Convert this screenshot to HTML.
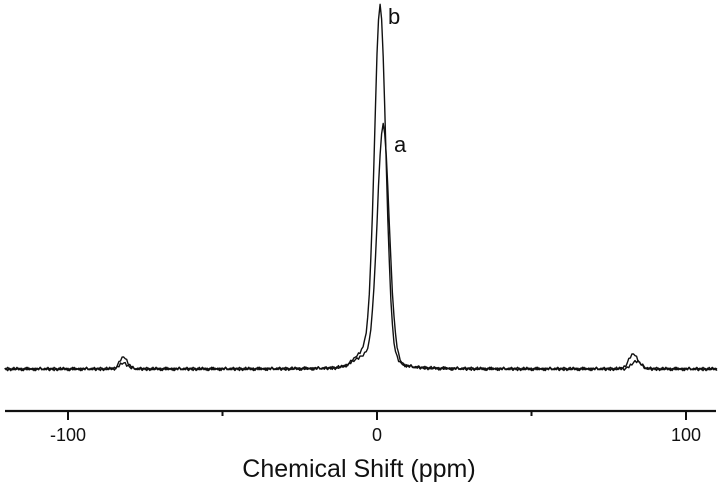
<!DOCTYPE html>
<html><head><meta charset="utf-8"><style>
html,body{margin:0;padding:0;background:#fff;}
svg{display:block;font-family:"Liberation Sans",Arial,sans-serif;}
</style></head><body>
<svg id="chart" width="721" height="482" viewBox="0 0 721 482" xmlns="http://www.w3.org/2000/svg">
<g id="plot"></g>
<g id="axis"></g>
<text x="359" y="477" font-size="25" text-anchor="middle" fill="#111">Chemical Shift (ppm)</text>
<text x="388" y="24" font-size="22" fill="#111">b</text>
<text x="394" y="152" font-size="22" fill="#111">a</text>
</svg>
<script>
// data
const majorTicks = [-100, 0, 100];
const minorTicks = [-50, 50];
const tickLabels = ["-100", "0", "100"];
// peaks: [center ppm, height (intensity units), fwhm ppm]
const peaksA = [[2.0, 244, 4.6], [-5, 9, 7], [-82, 6, 3], [84, 8, 3.5]];
const peaksB = [[1.0, 363, 4.4], [-5, 11, 6], [-82, 12, 3], [83, 15, 3.5]];
const noiseA = [1,-1,2,0,-2,1,-1,0,2,-1,1,-2,0,1,-1,2,-1,0,1,-2,1,0,-1,2,0,-1,1,-1,2,0];
const noiseB = [0,1,-2,1,0,-1,2,-1,0,1,-1,1,-2,0,2,-1,1,0,-1,1,-2,1,0,2,-1,0,-1,1,0,-2];

const X0 = 377, PX = 3.09, BASE = 369, XMIN = -120.5, XMAX = 110;
const x = p => X0 + PX * p;
const y = v => BASE - v;
const NS = "http://www.w3.org/2000/svg";

function shape(p, peaks){
  let s = 0;
  for (const [c, h, w] of peaks){
    const d = 2*(p-c)/w;
    s += h*(0.85*Math.exp(-Math.LN2*d*d) + 0.15/(1+d*d));
  }
  return s;
}
function path(peaks, noise){
  let d = "", i = 0;
  for (let p = XMIN; p <= XMAX; p += 0.5, i++){
    const v = shape(p, peaks) + noise[i % noise.length]*0.8;
    d += (i ? "L" : "M") + x(p).toFixed(1) + " " + y(v).toFixed(1);
  }
  return d;
}
const plot = document.getElementById("plot");
[[peaksA, noiseA, "spectrum-a-line"], [peaksB, noiseB, "spectrum-b-line"]].forEach(([pk, nz, nm]) => {
  const el = document.createElementNS(NS, "path");
  el.setAttribute("d", path(pk, nz));
  el.setAttribute("fill", "none");
  el.setAttribute("stroke", "#111");
  el.setAttribute("stroke-width", "1.4");
  el.setAttribute("stroke-linejoin", "round");
  
  
  plot.appendChild(el);
});

const axis = document.getElementById("axis");
const line = document.createElementNS(NS, "line");
line.setAttribute("x1", 5); line.setAttribute("x2", 716);
line.setAttribute("y1", 411); line.setAttribute("y2", 411);
line.setAttribute("stroke", "#111"); line.setAttribute("stroke-width", "2.2");


axis.appendChild(line);
majorTicks.forEach((t, i) => {
  const tk = document.createElementNS(NS, "line");
  tk.setAttribute("x1", x(t)); tk.setAttribute("x2", x(t));
  tk.setAttribute("y1", 411); tk.setAttribute("y2", 420);
  tk.setAttribute("stroke", "#111"); tk.setAttribute("stroke-width", "2");
  
  
  axis.appendChild(tk);
  const tx = document.createElementNS(NS, "text");
  tx.setAttribute("x", x(t)); tx.setAttribute("y", 441);
  tx.setAttribute("font-size", "18"); tx.setAttribute("text-anchor", "middle");
  tx.setAttribute("fill", "#111");
  tx.textContent = tickLabels[i];
  
  
  axis.appendChild(tx);
});
minorTicks.forEach(t => {
  const tk = document.createElementNS(NS, "line");
  tk.setAttribute("x1", x(t)); tk.setAttribute("x2", x(t));
  tk.setAttribute("y1", 411); tk.setAttribute("y2", 416);
  tk.setAttribute("stroke", "#111"); tk.setAttribute("stroke-width", "2");
  
  
  axis.appendChild(tk);
});
</script>
</body></html>
